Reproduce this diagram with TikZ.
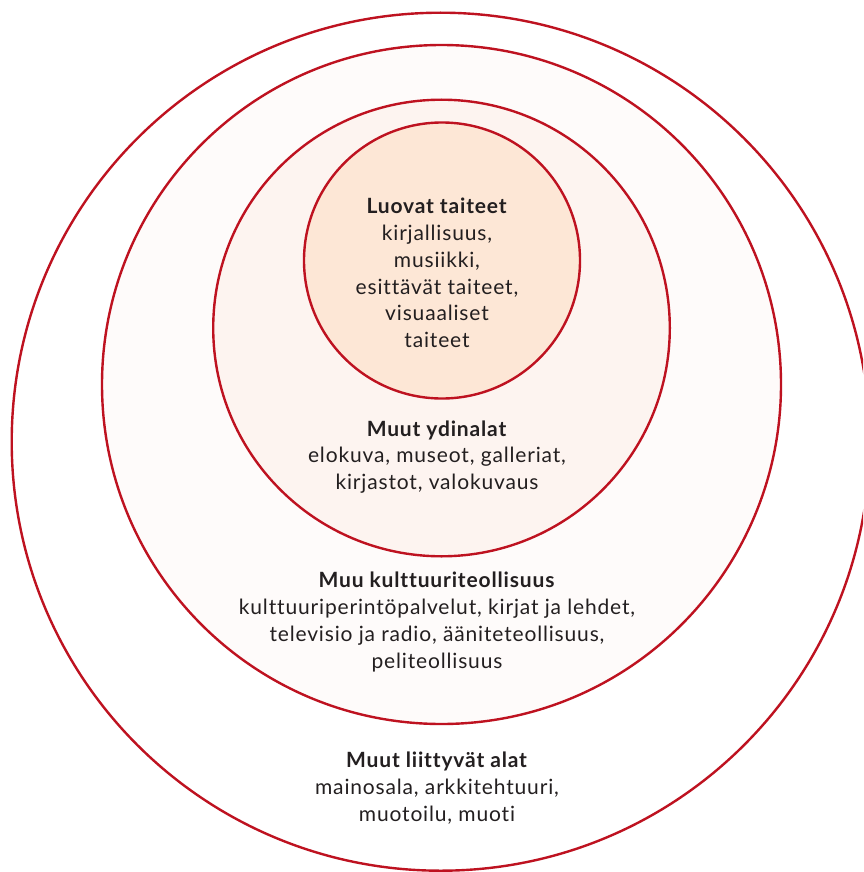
\documentclass[tikz,border=0pt]{standalone}
\usepackage{fontspec}
\setmainfont{Lato}[Ligatures=NoCommon, LetterSpace=4]
\definecolor{ringred}{RGB}{190,18,32}
\definecolor{txt}{RGB}{35,31,32}
\definecolor{fillA}{RGB}{255,255,255}
\definecolor{fillB}{RGB}{254,251,250}
\definecolor{fillC}{RGB}{253,244,240}
\definecolor{fillD}{RGB}{253,231,214}
\tikzset{
  ring/.style={draw=ringred, line width=2.4pt},
  lbl/.style={align=center, text=txt, inner sep=0pt, font=\fontsize{21}{26.7}\selectfont},
}
\newcommand{\hd}[1]{\textbf{#1}}
\begin{document}
\begin{tikzpicture}[x=1pt,y=-1pt]
\useasboundingbox (0,0) rectangle (863,872);
\clip (0,0) rectangle (863,872);
\fill[white] (0,0) rectangle (863,872);
\draw[ring, fill=fillA] (440.7,441.7) circle (429);
\draw[ring, fill=fillB] (441.5,384.5) circle (339.5);
\draw[ring, fill=fillC] (441.5,328) circle (228.3);
\draw[ring, fill=fillD] (442,260.5) circle (138);
\node[lbl] (luovat) at (437,273) {\hd{Luovat taiteet}\\kirjallisuus,\\musiikki,\\esittävät taiteet,\\visuaaliset\\taiteet};
\node[lbl] (ydin) at (437,457) {\hd{Muut ydinalat}\\elokuva, museot, galleriat,\\kirjastot, valokuvaus};
\node[lbl] (kult) at (437,622) {\hd{Muu kulttuuriteollisuus}\\kulttuuriperintöpalvelut, kirjat ja lehdet,\\televisio ja radio, ääniteteollisuus,\\peliteollisuus};
\node[lbl] (liit) at (437,788) {\hd{Muut liittyvät alat}\\mainosala, arkkitehtuuri,\\muotoilu, muoti};
\end{tikzpicture}
\end{document}
